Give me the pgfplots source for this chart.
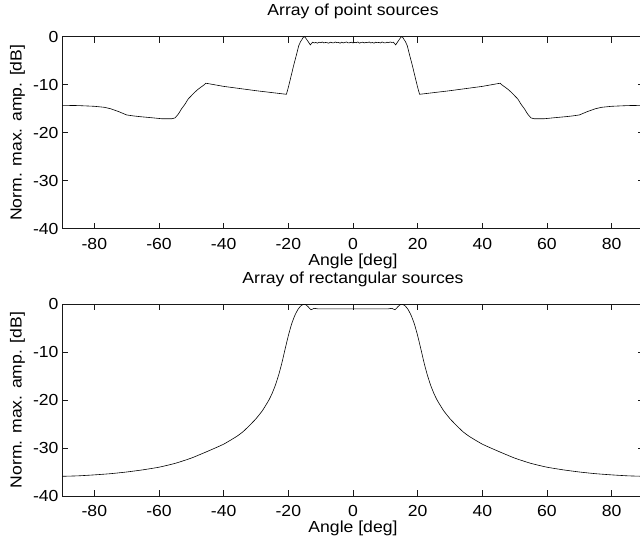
\documentclass[border=0pt]{standalone}
\usepackage{fontspec}
\setmainfont[FakeStretch=1.1]{Liberation Sans}
\usepackage{pgfplots}
\pgfplotsset{compat=1.18}
\pgfplotsset{mystyle/.style={
  scale only axis, width=582bp, height=192bp,
  xmin=-90, xmax=90, ymin=-40, ymax=0,
  xtick={-80,-60,...,80}, ytick={-40,-30,...,0},
  tick align=inside, major tick length=6bp,
  font=\fontsize{16bp}{19bp}\selectfont,
  /pgf/number format/assume math mode=true,
  axis line style={line width=0.8bp, black!90},
  every tick/.style={line width=0.6bp, black!90},
  xticklabel style={anchor=base, yshift=-20.8bp},
  yticklabel style={anchor=east},
  xlabel={Angle [deg]},
  ylabel={Norm. max. amp. [dB]},
  xlabel style={at={(axis description cs:0.5,0)}, anchor=base, yshift=-36.6bp, inner sep=0pt},
  ylabel style={at={(axis description cs:0,0.5)}, anchor=base, yshift=40.5bp, inner sep=0pt},
  title style={at={(axis description cs:0.5,1)}, anchor=base, yshift=15bp, inner sep=0pt},
}}
\begin{document}
\begin{tikzpicture}
\begin{axis}[mystyle, name=bot, at={(0,0)}, title={Array of rectangular sources}]
\addplot[black, line width=0.6bp, smooth, tension=0.3] coordinates {
(-90,-35.9) (-85,-35.8) (-80,-35.6) (-75,-35.35) (-70,-35.0) (-65,-34.55) (-60,-34.0) (-55,-33.2) (-50,-32.1) (-45,-30.7) (-40,-29.2) (-36,-27.6) (-34,-26.6) (-32,-25.3) (-30,-23.9) (-28,-22.2) (-26,-20.0) (-25,-18.6) (-24,-16.9) (-23,-14.8) (-22,-12.3) (-21,-9.4) (-20,-6.6) (-19,-4.2) (-18,-2.4) (-17,-1.1) (-16,-0.3) (-15,0) (-14.5,-0.2) (-13.9,-0.55) (-13,-1.2) (-12,-0.9) (-11,-1.0)
(-5,-1.0) (0,-1.0) (5,-1.0)
(11,-1.0) (12,-0.9) (13,-1.2) (13.9,-0.55) (14.5,-0.2) (15,0) (16,-0.3) (17,-1.1) (18,-2.4) (19,-4.2) (20,-6.6) (21,-9.4) (22,-12.3) (23,-14.8) (24,-16.9) (25,-18.6) (26,-20.0) (28,-22.2) (30,-23.9) (32,-25.3) (34,-26.6) (36,-27.6) (40,-29.2) (45,-30.7) (50,-32.1) (55,-33.2) (60,-34.0) (65,-34.55) (70,-35.0) (75,-35.35) (80,-35.6) (85,-35.8) (90,-35.9)
};
\end{axis}
\begin{axis}[mystyle, name=top, at={(0,267.3bp)}, title={Array of point sources}]
\addplot[black, line width=0.6bp] coordinates {
(-90,-14.3) (-85,-14.35) (-80,-14.5) (-77,-14.7) (-75,-15.0) (-72.5,-15.6) (-70,-16.3) (-68,-16.5) (-66,-16.65) (-62,-16.9) (-59,-17.1) (-56,-17.1) (-55,-16.9) (-54,-16.1) (-53,-15.0) (-52,-14.1) (-51,-13.0) (-50,-12.3) (-49,-11.6) (-48,-11.0) (-47,-10.5) (-46,-10.0) (-45.5,-9.7) (-45,-9.75) (-40,-10.35) (-35,-10.8) (-30,-11.25) (-25,-11.65) (-20.6,-12.0) (-20.3,-11.3) (-19.9,-10.3) (-19,-7.8) (-18.4,-6.1) (-17.5,-3.8) (-16.8,-1.9) (-16.2,-1.0) (-15.8,-0.6) (-15.4,-0.15) (-15,0) (-14.6,-0.3) (-13.9,-1.0) (-13.2,-1.7)
(-12.5,-1.15) (-12,-1.3) (-11.5,-1.2) (-11,-1.35) (-10.5,-1.15) (-10,-1.25) (-9.5,-1.1) (-9,-1.3) (-8.5,-1.2) (-8,-1.25) (-7.5,-1.35) (-7,-1.15) (-6.5,-1.25) (-6,-1.3) (-5.5,-1.1) (-5,-1.25) (-4.5,-1.2) (-4,-1.35) (-3.5,-1.15) (-3,-1.3) (-2.5,-1.2) (-2,-1.1) (-1.5,-1.3) (-1,-1.25) (-0.5,-1.15) (0,-1.3) (0.5,-1.2) (1,-1.25) (1.5,-1.1) (2,-1.35) (2.5,-1.2) (3,-1.15) (3.5,-1.3) (4,-1.2) (4.5,-1.25) (5,-1.1) (5.5,-1.3) (6,-1.2) (6.5,-1.35) (7,-1.15) (7.5,-1.25) (8,-1.2) (8.5,-1.3) (9,-1.1) (9.5,-1.25) (10,-1.3) (10.5,-1.15) (11,-1.25) (11.5,-1.1) (12,-1.2) (12.5,-1.15)
(13.2,-1.7) (13.9,-1.0) (14.6,-0.3) (15,0) (15.4,-0.15) (15.8,-0.6) (16.2,-1.0) (16.8,-1.9) (17.5,-3.8) (18.4,-6.1) (19,-7.8) (19.9,-10.3) (20.3,-11.3) (20.6,-12.0) (25,-11.65) (30,-11.25) (35,-10.8) (40,-10.35) (45,-9.75) (45.5,-9.7) (46,-10.0) (47,-10.5) (48,-11.0) (49,-11.6) (50,-12.3) (51,-13.0) (52,-14.1) (53,-15.0) (54,-16.1) (55,-16.9) (56,-17.1) (59,-17.1) (62,-16.9) (66,-16.65) (68,-16.5) (70,-16.3) (72.5,-15.6) (75,-15.0) (77,-14.7) (80,-14.5) (85,-14.35) (90,-14.3)
};
\end{axis}
\pgfresetboundingbox
\useasboundingbox (-62bp,-50bp) rectangle (578bp,496bp);
\end{tikzpicture}
\end{document}
